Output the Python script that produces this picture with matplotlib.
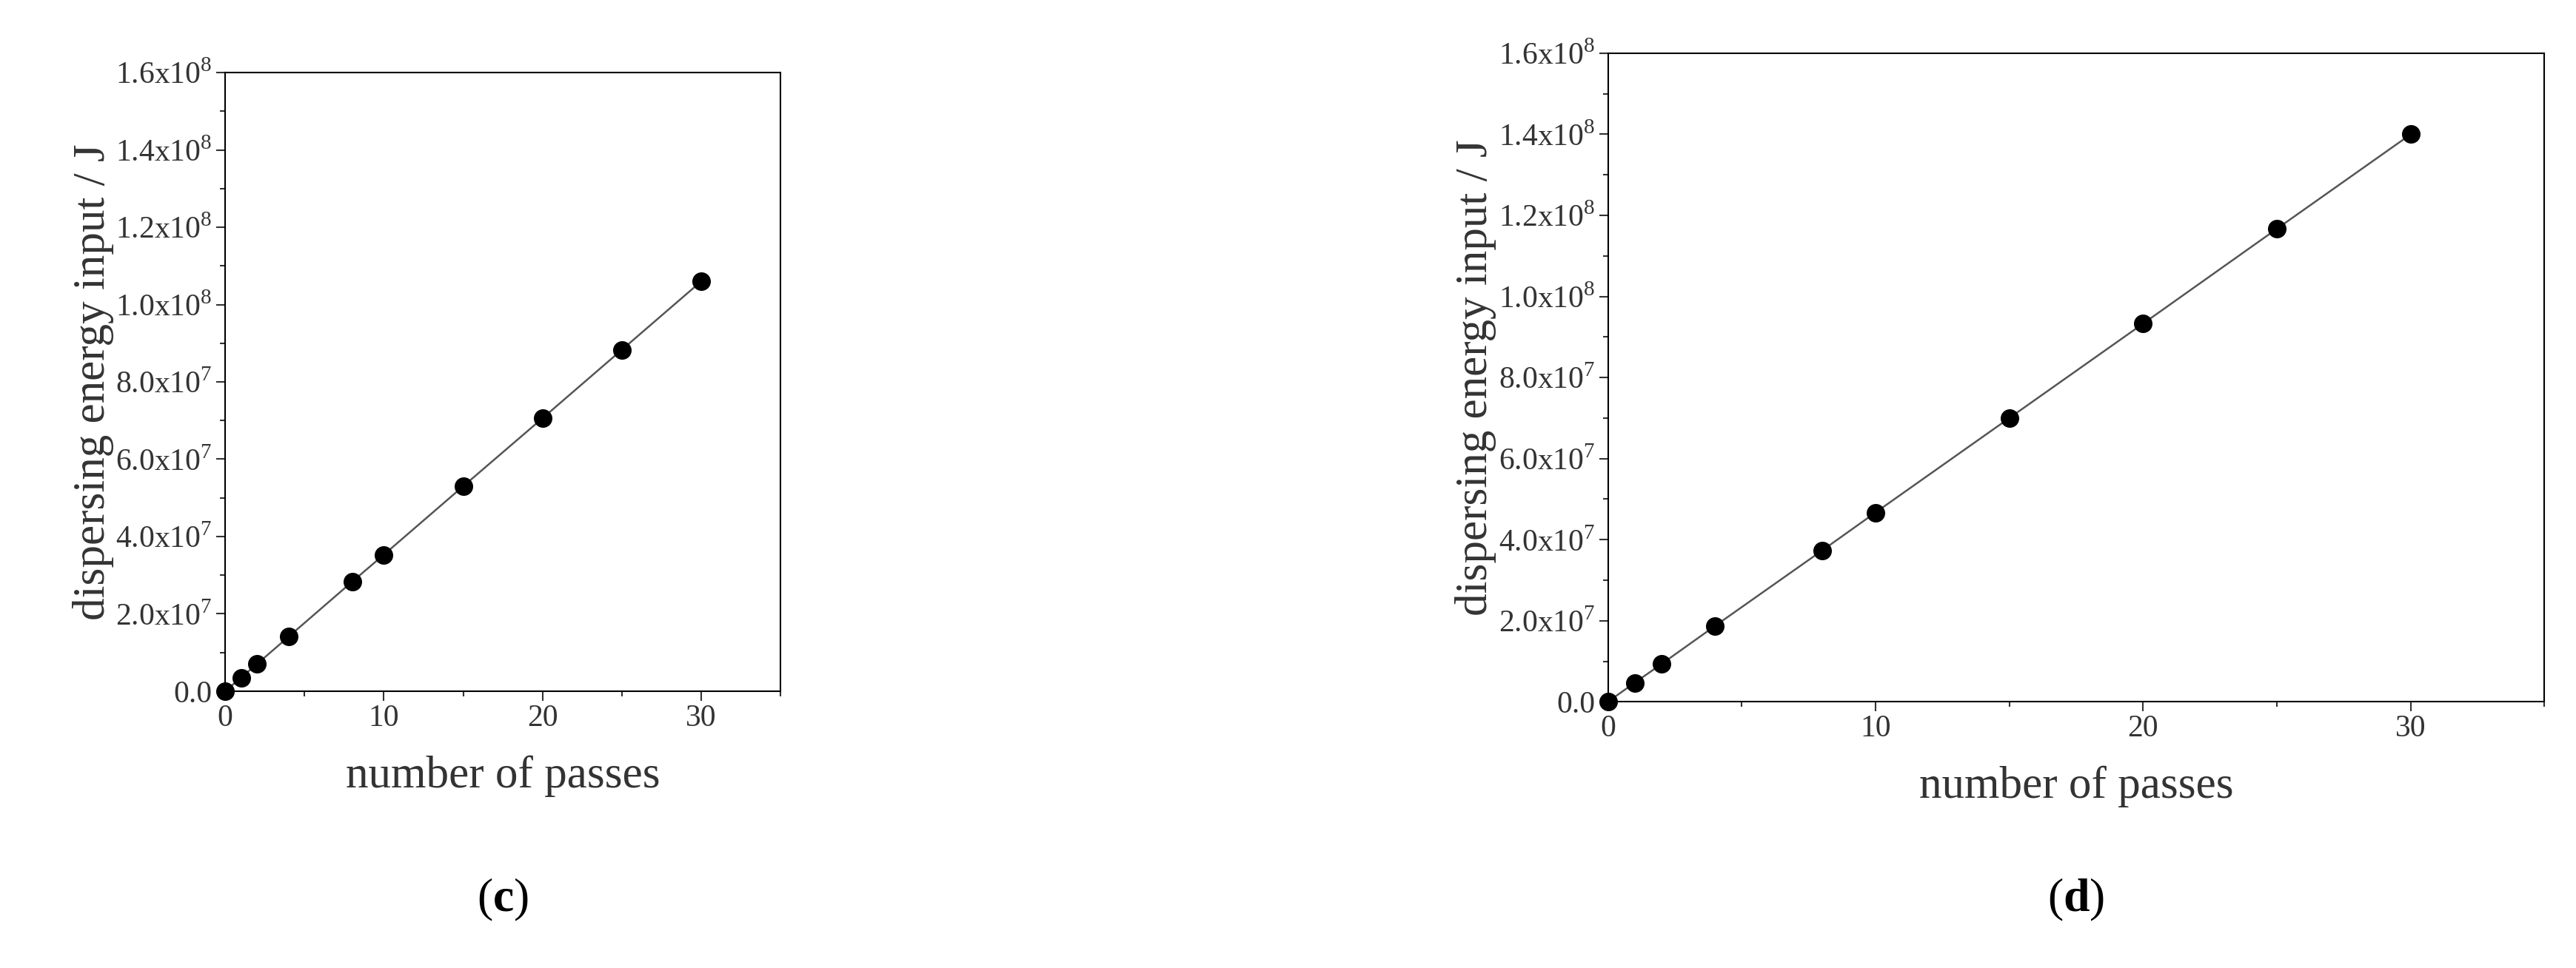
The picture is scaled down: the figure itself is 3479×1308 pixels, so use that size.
import matplotlib
matplotlib.use("Agg")
import matplotlib.pyplot as plt
from matplotlib.ticker import MultipleLocator, FuncFormatter

plt.rcParams['font.family'] = ['Liberation Serif', 'DejaVu Serif']
plt.rcParams['mathtext.fontset'] = 'custom'
plt.rcParams['mathtext.rm'] = 'Liberation Serif'
plt.rcParams['mathtext.bf'] = 'Liberation Serif:bold'

passes = [0, 1, 2, 4, 8, 10, 15, 20, 25, 30]
energy_c = [0, 3.5e6, 7.0e6, 14.1e6, 28.3e6, 35.3e6, 53.0e6, 70.6e6, 88.3e6, 106e6]
energy_d = [0, 4.7e6, 9.3e6, 18.7e6, 37.3e6, 46.7e6, 70.0e6, 93.3e6, 116.7e6, 140e6]
panel_labels = ['c', 'd']

def fmt(v, pos):
    if v == 0:
        return '0.0'
    e = 0
    m = v
    while abs(m) >= 10:
        m /= 10
        e += 1
    return f'{m:.1f}x10$^{{{e}}}$'

fig = plt.figure(figsize=(34.8, 13.08), dpi=100)
axc = fig.add_axes([0.0874, 0.286, 0.2155, 0.639])
axd = fig.add_axes([0.624, 0.275, 0.3635, 0.670])

for ax, y, lab in [(axc, energy_c, panel_labels[0]), (axd, energy_d, panel_labels[1])]:
    ax.plot(passes, y, '-', color='#555555', lw=1.8, zorder=2)
    ax.plot(passes, y, 'o', color='black', ms=17, zorder=3, clip_on=False)
    ax.set_xlim(0, 35)
    ax.set_ylim(0, 1.6e8)
    ax.xaxis.set_major_locator(MultipleLocator(10))
    ax.xaxis.set_minor_locator(MultipleLocator(5))
    ax.yaxis.set_major_locator(MultipleLocator(2e7))
    ax.yaxis.set_minor_locator(MultipleLocator(1e7))
    ax.yaxis.set_major_formatter(FuncFormatter(fmt))
    ax.tick_params(which='both', direction='out', labelsize=30, width=1.5, colors='#333333')
    ax.tick_params(which='major', length=9)
    ax.tick_params(which='minor', length=5)
    for s in ax.spines.values():
        s.set_linewidth(1.5)
    ax.set_xlabel('number of passes', fontsize=44, color='#333333', labelpad=22)
    ax.set_ylabel('dispersing energy input / J', fontsize=44, color='#333333', labelpad=2)
    bb = ax.get_position()
    fig.text((bb.x0 + bb.x1) / 2, 0.07, '(' + r'$\mathbf{' + lab + '}$' + ')',
             ha='center', va='center', fontsize=46)

fig.savefig('out.png', dpi=100)
